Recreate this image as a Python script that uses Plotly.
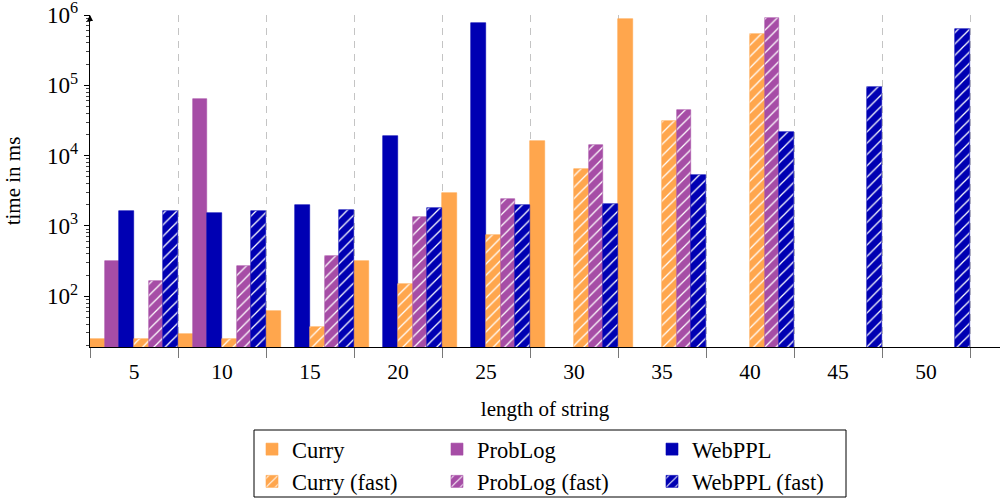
import plotly.graph_objects as go

categories = ["5", "10", "15", "20", "25", "30", "35", "40", "45", "50"]
curry = [25, 29, 61, 313, 2900, 16000, 877000, None, None, None]
problog = [313, 63800, None, None, None, None, None, None, None, None]
webppl = [1630, 1530, 1960, 19200, 762000, None, None, None, None, None]
curry_fast = [24.4, 24.4, 37, 149, 743, 6500, 31400, 531000, None, None]
problog_fast = [163, 269, 373, 1340, 2390, 14100, 44500, 906000, None, None]
webppl_fast = [1610, 1630, 1670, 1800, 1980, 2050, 5240, 21400, 94600, 632000]

ORANGE = "#FFA64D"
PURPLE = "#A64DA6"
BLUE = "#0000B3"
FONT = "Liberation Serif"

series = [
    ("Curry", curry, ORANGE, False, "curry", 140),
    ("ProbLog", problog, PURPLE, False, "problog", 170),
    ("WebPPL", webppl, BLUE, False, "webppl", 140),
    ("Curry (fast)", curry_fast, ORANGE, True, "curry", 140),
    ("ProbLog (fast)", problog_fast, PURPLE, True, "problog", 170),
    ("WebPPL (fast)", webppl_fast, BLUE, True, "webppl", 140),
]

fig = go.Figure()
for name, vals, col, hatched, grp, lw in series:
    marker = dict(color=col, line=dict(color=col, width=0.6))
    if hatched:
        marker["pattern"] = dict(shape="/", fgcolor="white", bgcolor=col,
                                 size=8, solidity=0.16, fillmode="replace")
    fig.add_trace(go.Bar(x=categories, y=vals, name=name, marker=marker,
                         legendgroup=grp, legendwidth=lw))

# Plot area on screen: x 90..1000 px, y 15..347 px
def px_x(p):
    return (p - 90) / 910

def px_y(p):
    return (347 - p) / 332

fig.update_layout(
    width=1000, height=499,
    margin=dict(l=90, r=0, t=15, b=152, autoexpand=False),
    paper_bgcolor="white", plot_bgcolor="white",
    barmode="group", bargap=0, bargroupgap=0,
    font=dict(family=FONT, color="black", size=21),
    legend=dict(orientation="h", traceorder="grouped",
                x=px_x(252), xanchor="left", y=px_y(428), yanchor="top",
                bgcolor="rgba(0,0,0,0)", borderwidth=0,
                font=dict(family=FONT, size=22.5, color="black"),
                itemclick=False),
    shapes=[dict(type="rect", xref="paper", yref="paper",
                 x0=px_x(254), x1=px_x(846), y0=px_y(497), y1=px_y(430),
                 line=dict(color="black", width=1), fillcolor="rgba(0,0,0,0)")],
    annotations=[dict(x=0, y=1, xref="paper", yref="paper", ax=0, ay=8,
                      showarrow=True, arrowhead=2, arrowsize=1, arrowwidth=1.2,
                      arrowcolor="black", text="")],
)

fig.update_xaxes(
    type="category", range=[-0.5, 9.84], automargin=False,
    tickson="boundaries", ticks="outside", ticklen=10, tickwidth=1, tickcolor="#777777",
    showgrid=True, gridcolor="#c4c4c4", griddash="7px,6px", gridwidth=1,
    showline=True, linecolor="black", linewidth=1.2,
    tickfont=dict(family=FONT, size=21.5, color="black"), ticklabelstandoff=5,
    title=dict(text="length of string", font=dict(family=FONT, size=21, color="black"), standoff=18),
    zeroline=False,
)

fig.update_yaxes(
    type="log", range=[1.2774, 6.0], dtick=1, tick0=0, exponentformat="power",
    automargin=False, ticklabeloverflow="allow",
    ticks="outside", ticklen=5, tickwidth=1, tickcolor="black",
    minor=dict(ticks="outside", ticklen=3, tickwidth=0.8, tickcolor="#444444", dtick="D1", showgrid=False),
    showgrid=False, showline=True, linecolor="black", linewidth=1.2,
    tickfont=dict(family=FONT, size=18.5, color="black"), ticklabelstandoff=2,
    title=dict(text="time in ms", font=dict(family=FONT, size=21, color="black"), standoff=20),
    zeroline=False,
)

fig.write_html("out.html",
               config={"displayModeBar": False},
               post_script="document.body.style.margin='0';document.body.style.overflow='hidden';")
